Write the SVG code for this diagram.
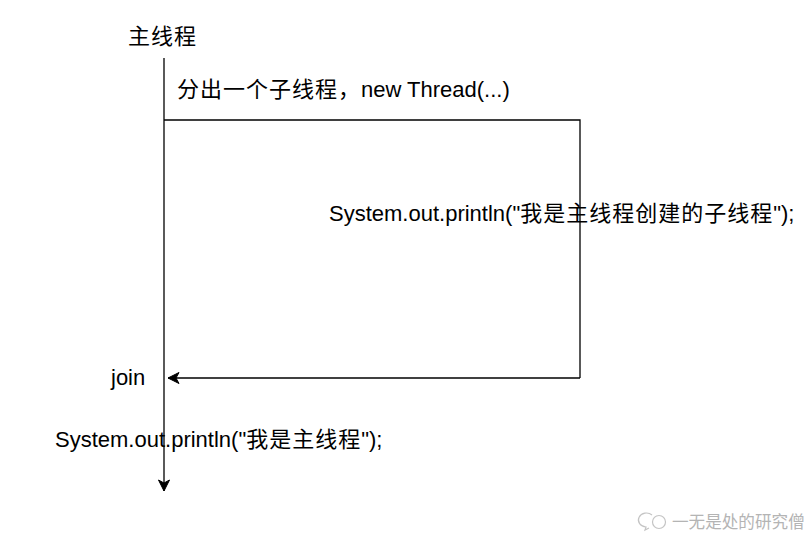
<svg xmlns="http://www.w3.org/2000/svg" width="811" height="537" viewBox="0 0 811 537">
<style>
  .t { font-family: "Liberation Sans", "Noto Sans CJK SC", sans-serif; font-size: 22px; fill: #000; }
  .cj { letter-spacing: 1px; }
  .ln { stroke: #000; stroke-width: 1.3; fill: none; }
  .wm { font-family: "Noto Sans CJK SC", sans-serif; font-size: 16.6px; fill: #b4b4b4; }
</style>
<defs>
  <marker id="arr" markerUnits="userSpaceOnUse" markerWidth="14" markerHeight="14" viewBox="-12 -7 14 14" refX="0" refY="0" orient="auto">
    <path d="M0,0 L-11,-5.5 L-8,0 L-11,5.5 Z" fill="#000" stroke="#000" stroke-width="1"/>
  </marker>
</defs>
<rect width="811" height="537" fill="#fff"/>
<g id="connectors">
  <path class="ln" d="M164,58 L164,491" marker-end="url(#arr)"/>
  <path class="ln" d="M164,120 L580,120 L580,378"/>
  <path class="ln" d="M580,378 L168,378" marker-end="url(#arr)"/>
</g>
<g id="main-thread">
  <text class="t" x="128" y="44"><tspan class="cj">主线程</tspan></text>
</g>
<g id="fork">
  <text class="t" x="177" y="97"><tspan class="cj">分出一个子线程，</tspan>new Thread(...)</text>
</g>
<g id="child-print">
  <text class="t" x="329" y="221">System.out.println("<tspan class="cj">我是主线程创建的子线程</tspan>");</text>
</g>
<g id="join">
  <text class="t" x="111" y="385">join</text>
</g>
<g id="main-print">
  <text class="t" x="55" y="447">System.out.println("<tspan class="cj">我是主线程</tspan>");</text>
</g>
<g id="watermark">
  <path d="M652,515 a8,7 0 1,0 -6,12 l-1,3 l4,-2" fill="none" stroke="#c4c4c4" stroke-width="1.2"/>
  <circle cx="659" cy="522" r="6.5" fill="#fff" stroke="#c4c4c4" stroke-width="1.2"/>
  <text class="wm" x="672" y="528">一无是处的研究僧</text>
</g>
</svg>
